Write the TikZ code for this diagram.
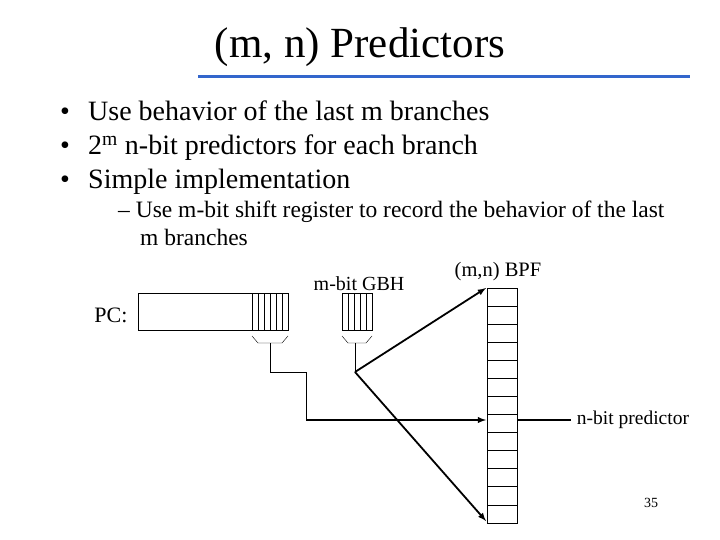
\documentclass[tikz,border=0pt]{standalone}
\usepackage{fontspec}
\setmainfont{Liberation Serif}
\begin{document}
\begin{tikzpicture}[x=1pt,y=-1pt,
  thin box/.style={draw,line width=0.8pt},
  arr/.style={line width=1.8pt,-latex},
  lbl/.style={inner sep=0pt}]
\useasboundingbox (0,0) rectangle (720,540);
\node[lbl,font=\fontsize{43}{46}\selectfont] (title) at (360,47) {(m, n) Predictors};
\draw[line width=3pt,color={rgb,255:red,51;green,102;blue,204}] (198,77) -- (690,77);
\begin{scope}[font=\fontsize{28}{30}\selectfont]
\node[lbl,anchor=base west] (l1) at (88,121) {Use behavior of the last m branches};
\node[lbl,anchor=base west] (l2) at (88,155) {2\textsuperscript{m} n-bit predictors for each branch};
\node[lbl,anchor=base west] (l3) at (88,189) {Simple implementation};
\node[lbl,anchor=base west] (d1) at (60,121) {\textbullet};
\node[lbl,anchor=base west] (d2) at (60,155) {\textbullet};
\node[lbl,anchor=base west] (d3) at (60,189) {\textbullet};
\end{scope}
\begin{scope}[font=\fontsize{23.5}{26}\selectfont]
\node[lbl,anchor=base west] (s0) at (118,218) {– Use m-bit shift register to record the behavior of the last};
\node[lbl,anchor=base west] (s1) at (140,245) {m branches};
\end{scope}
\node[lbl,font=\fontsize{20}{22}\selectfont] (gbhl) at (359,284) {m-bit GBH};
\node[lbl,font=\fontsize{20.5}{22}\selectfont] (bpfl) at (498,272) {(m,n) BPF};
\node[lbl,font=\fontsize{22}{24}\selectfont] (pcl) at (111,315) {PC:};
\node[lbl,font=\fontsize{19.5}{22}\selectfont] (npl) at (633,420) {n-bit predictor};
\node[lbl,font=\fontsize{14}{16}\selectfont] (pg) at (651,503) {35};
% PC register
\draw[thin box] (138,293) rectangle (288,330);
\foreach \i in {0,...,5} \draw[thin box] (252+\i*6,293) -- (252+\i*6,330);
\draw (252,336) -- (258,343) -- (282,343) -- (288,336);
% GBH
\draw[thin box] (342,293) rectangle (372,330);
\foreach \i in {1,...,4} \draw[thin box] (342+\i*6,293) -- (342+\i*6,330);
\draw (342,336) -- (348,343) -- (366,343) -- (372,336);
% BPF
\draw[thin box] (487,288) rectangle (517,523);
\foreach \i in {1,...,12} \draw[thin box] (487,288+\i*18.08) -- (517,288+\i*18.08);
\coordinate (top) at (486,288);
\coordinate (mid) at (486,420);
\coordinate (bot) at (486,521);
\coordinate (j) at (355,372);
\coordinate (pe) at (571,420);
\draw[line width=0.8pt] (270,343) -- (270,372) -- (306,372) -- (306,420);
\draw[arr] (306,420) -- (mid);
\draw[line width=0.8pt] (355,343) -- (j);
\draw[arr] (j) -- (top);
\draw[arr] (j) -- (bot);
\draw[line width=1.5pt] (517,420) -- (pe);
\end{tikzpicture}
\end{document}
